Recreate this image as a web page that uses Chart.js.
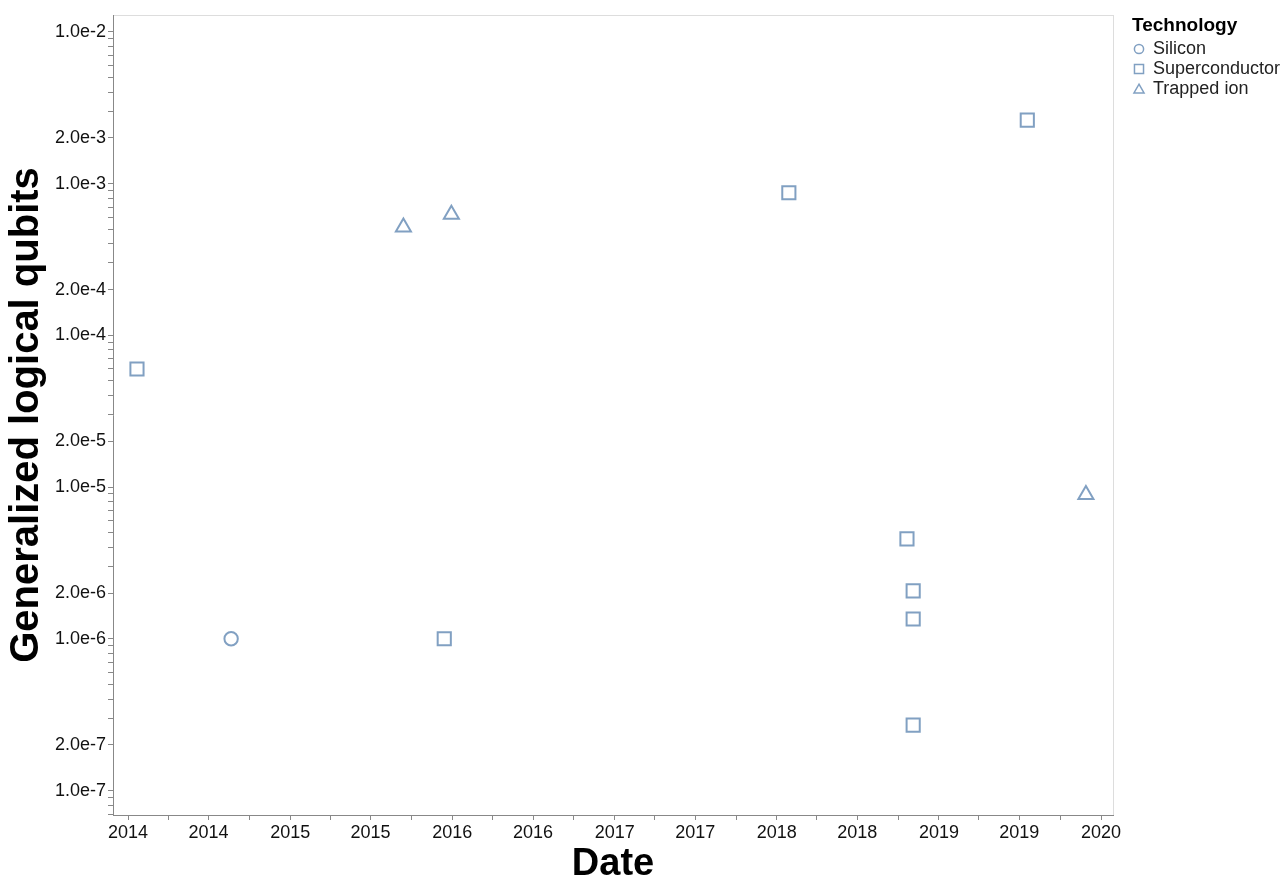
<!DOCTYPE html>
<html>
<head>
<meta charset="utf-8">
<script src="https://cdn.jsdelivr.net/npm/chart.js@4.4.1/dist/chart.umd.min.js"></script>
<style>
  html, body { margin: 0; padding: 0; background: #fff; }
</style>
</head>
<body>
<canvas id="chart" width="1286" height="891"></canvas>
<script>
// data
const technologies = ['Silicon', 'Superconductor', 'Trapped ion'];
const shapes = ['circle', 'rect', 'triangle'];
const shapeRadius = [6.7, 9.3, 8.7];

const siliconDates = ['2014-08-21'];
const siliconValues = [1.0e-6];

const superDates = ['2014-01-21', '2015-12-14', '2018-01-28', '2018-10-21', '2018-11-04', '2018-11-04', '2018-11-04', '2019-07-19'];
const superValues = [6.0e-5, 1.0e-6, 8.7e-4, 4.55e-6, 2.07e-6, 1.35e-6, 2.7e-7, 2.62e-3];

const ionDates = ['2015-09-13', '2015-12-30', '2019-11-28'];
const ionValues = [5.15e-4, 6.25e-4, 8.9e-6];

// axis ticks
const yLabelTicks = [1e-7, 2e-7, 1e-6, 2e-6, 1e-5, 2e-5, 1e-4, 2e-4, 1e-3, 2e-3, 1e-2];
const xTickYears = [2014, 2015, 2016, 2017, 2018, 2019, 2020];
const xTickMonths = [0, 3, 6, 9];

const xMin = Date.UTC(2013, 10, 28);
const xMax = Date.UTC(2020, 0, 28);
const yMin = 6.9e-8;
const yMax = 1.29e-2;

const color = 'rgba(76, 120, 168, 0.7)';

function toPoints(dates, values) {
    return dates.map((d, i) => ({ x: Date.parse(d + 'T00:00:00Z'), y: values[i] }));
}

const allSeries = [
    toPoints(siliconDates, siliconValues),
    toPoints(superDates, superValues),
    toPoints(ionDates, ionValues),
];

const datasets = technologies.map((t, i) => ({
    label: t,
    data: allSeries[i],
    pointStyle: shapes[i],
    pointRadius: shapeRadius[i],
    pointHoverRadius: shapeRadius[i],
    borderColor: color,
    backgroundColor: 'rgba(0,0,0,0)',
    pointBorderWidth: 2,
    showLine: false,
}));

// y ticks: every 1..9 x 10^n, label only the ones listed
const yTicks = [];
for (let e = -8; e <= -2; e++) {
    for (let m = 1; m <= 9; m++) {
        const v = m * Math.pow(10, e);
        if (v >= yMin && v <= yMax) yTicks.push(v);
    }
}
const xTicks = [];
for (const yr of xTickYears) {
    for (const mo of xTickMonths) {
        const v = Date.UTC(yr, mo, 1);
        if (v >= xMin && v <= xMax) xTicks.push(v);
    }
}

const font = 'Arial, "Liberation Sans", sans-serif';

const framePlugin = {
    id: 'frame',
    beforeDraw(chart) {
        const { ctx, chartArea: a } = chart;
        ctx.save();
        ctx.strokeStyle = '#ddd';
        ctx.lineWidth = 1;
        ctx.strokeRect(a.left + 0.5, a.top + 0.5, a.right - a.left, a.bottom - a.top);
        ctx.restore();
    }
};

const legendPlugin = {
    id: 'techLegend',
    afterDraw(chart) {
        const { ctx, chartArea: a } = chart;
        const x0 = a.right + 19;
        ctx.save();
        ctx.fillStyle = '#000';
        ctx.textBaseline = 'alphabetic';
        ctx.font = 'bold 19px ' + font;
        ctx.fillText('Technology', x0, 31);
        ctx.font = '18px ' + font;
        ctx.textBaseline = 'middle';
        const legendRadius = { circle: 4.6, rect: 6.4, triangle: 5.8 };
        chart.data.datasets.forEach((ds, i) => {
            const y = 49 + i * 20;
            ctx.strokeStyle = color;
            ctx.fillStyle = 'rgba(0,0,0,0)';
            ctx.lineWidth = 1.5;
            Chart.helpers.drawPoint(ctx, {
                pointStyle: ds.pointStyle,
                radius: legendRadius[ds.pointStyle],
                borderWidth: 1.5,
                rotation: 0
            }, x0 + 7, ds.pointStyle === 'triangle' ? y + 1 : y);
            ctx.fillStyle = '#222';
            ctx.fillText(ds.label, x0 + 21, y);
        });
        ctx.restore();
    }
};

new Chart(document.getElementById('chart'), {
    type: 'scatter',
    data: { datasets },
    plugins: [framePlugin, legendPlugin],
    options: {
        responsive: false,
        devicePixelRatio: 1,
        animation: false,
        layout: { padding: { top: 15, right: 173, left: 0, bottom: 0 } },
        plugins: {
            legend: { display: false },
            tooltip: { enabled: false },
        },
        scales: {
            x: {
                type: 'linear',
                min: xMin,
                max: xMax,
                afterBuildTicks: (scale) => {
                    scale.ticks = xTicks.map(v => ({ value: v }));
                },
                afterFit: (scale) => { scale.height = 76; },
                grid: { drawOnChartArea: false, tickLength: 5, color: '#888' },
                border: { color: '#888' },
                ticks: {
                    autoSkip: false,
                    maxRotation: 0,
                    padding: 2,
                    color: '#111',
                    font: { family: font, size: 18 },
                    callback: (v) => {
                        const d = new Date(v);
                        return d.getUTCMonth() % 6 === 0 ? String(d.getUTCFullYear()) : '';
                    }
                },
                title: {
                    display: true,
                    text: 'Date',
                    color: '#000',
                    font: { family: font, size: 38, weight: 'bold' },
                    padding: { top: 0, bottom: 4 }
                }
            },
            y: {
                type: 'logarithmic',
                min: yMin,
                max: yMax,
                afterBuildTicks: (scale) => {
                    scale.ticks = yTicks.map(v => ({ value: v }));
                },
                afterFit: (scale) => { scale.width = 113; },
                grid: { drawOnChartArea: false, tickLength: 5, color: '#888' },
                border: { color: '#888' },
                ticks: {
                    autoSkip: false,
                    padding: 2,
                    color: '#111',
                    font: { family: font, size: 18 },
                    callback: (v) => {
                        const hit = yLabelTicks.find(t => Math.abs(t - v) / t < 1e-6);
                        return hit ? hit.toExponential(1) : '';
                    }
                },
                title: {
                    display: true,
                    text: 'Generalized logical qubits',
                    color: '#000',
                    font: { family: font, size: 40, weight: 'bold' },
                    padding: { top: 3, bottom: 0 }
                }
            }
        }
    }
});
</script>
</body>
</html>
